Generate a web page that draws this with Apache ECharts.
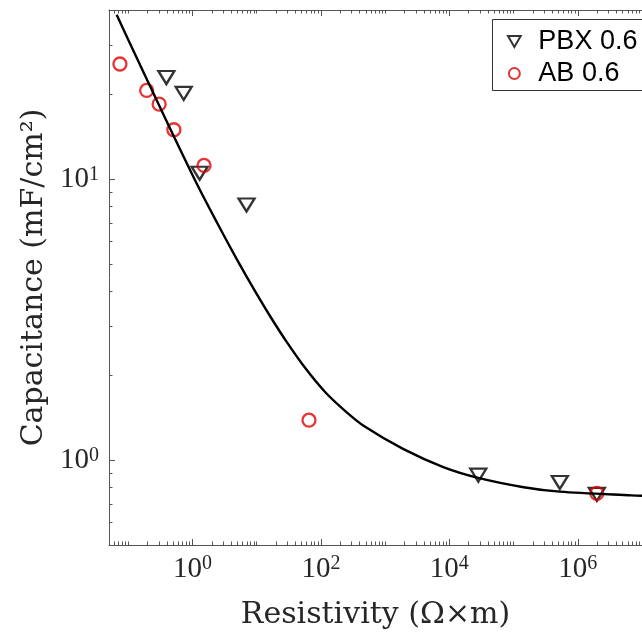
<!DOCTYPE html>
<html>
<head>
<meta charset="utf-8">
<script src="https://cdn.jsdelivr.net/npm/echarts@6/dist/echarts.min.js"></script>
<style>
html,body{margin:0;padding:0;background:#fff;}
#chart{width:642px;height:635px;}
</style>
</head>
<body>
<div id="chart"></div>
<script>
// ---- data ----
const pbxRes = [0.391, 0.728, 1.29, 6.93, 28200, 525000, 1980000];
const pbxCap = [23.0, 20.2, 10.5, 8.1, 0.886, 0.834, 0.757];
const abRes = [0.074, 0.193, 0.302, 0.512, 1.51, 65.1, 1980000];
const abCap = [25.7, 20.7, 18.5, 15.0, 11.2, 1.39, 0.763];
const fitRes = [0.0658, 0.1014, 0.3478, 1.192, 2.412, 4.877, 9.86, 16.72, 28.36, 57.33, 115.9, 234.5, 474.1, 1898, 8037, 28150, 143800, 525200, 6840000, 10000000];
const fitCap = [38.5, 31.07, 17.10, 9.54, 7.005, 5.201, 3.925, 3.216, 2.667, 2.125, 1.751, 1.504, 1.322, 1.099, 0.9467, 0.8665, 0.8027, 0.7739, 0.7506, 0.7488];
const seriesNames = ['PBX 0.6', 'AB 0.6'];
const xMajorTicks = [1, 100, 10000, 1000000];
const yMajorTicks = [1, 10];
const xRange = [0.05, 10000000];
const yRange = [0.5, 40];

function minorTicks(range, majors) {
  const out = [];
  const e0 = Math.floor(Math.log10(range[0]));
  const e1 = Math.ceil(Math.log10(range[1]));
  for (let e = e0; e <= e1; e++) {
    for (let k = 1; k <= 9; k++) {
      const v = parseFloat((k * Math.pow(10, e)).toPrecision(6));
      if (v >= range[0] && v <= range[1] && majors.indexOf(v) < 0) out.push(v);
    }
  }
  return out;
}
const xMinor = minorTicks(xRange, xMajorTicks);
const yMinor = minorTicks(yRange, yMajorTicks);

const axisColor = '#555';
const redColor = '#e00000';
const tickFont = 'Liberation Serif';
const titleFont = 'DejaVu Serif';
const richLabel = {
  b: {fontFamily: tickFont, fontSize: 29, color: '#262626', lineHeight: 30},
  s: {fontFamily: tickFont, fontSize: 20, color: '#262626', lineHeight: 20, verticalAlign: 'top'}
};
function powLabel(v) {
  const e = Math.round(Math.log10(v));
  return '{b|10}{s|' + e + '}';
}
function xAx(pos, ticks, len, withLine, withLabel) {
  const a = {
    type: 'log', logBase: 10, min: xRange[0], max: xRange[1], gridIndex: 0, position: pos,
    axisLine: {show: withLine, onZero: false, lineStyle: {color: axisColor, width: 1}},
    axisTick: {show: true, inside: true, length: len, customValues: ticks, lineStyle: {color: axisColor, width: 1}},
    axisLabel: withLabel ? {show: true, customValues: xMajorTicks, formatter: powLabel, margin: 9, rich: richLabel} : {show: false},
    splitLine: {show: false}, minorTick: {show: false}
  };
  if (withLabel) {
    a.name = 'Resistivity (Ω×m)';
    a.nameLocation = 'middle';
    a.nameGap = 55;
    a.nameTextStyle = {fontFamily: titleFont, fontSize: 30, color: '#262626'};
  }
  return a;
}
function yAx(pos, ticks, len, withLine, withLabel) {
  const a = {
    type: 'log', logBase: 10, min: yRange[0], max: yRange[1], gridIndex: 0, position: pos,
    axisLine: {show: withLine, onZero: false, lineStyle: {color: axisColor, width: 1}},
    axisTick: {show: true, inside: true, length: len, customValues: ticks, lineStyle: {color: axisColor, width: 1}},
    axisLabel: withLabel ? {show: true, customValues: yMajorTicks, formatter: powLabel, margin: 10, rich: richLabel} : {show: false},
    splitLine: {show: false}, minorTick: {show: false}
  };
  if (withLabel) {
    a.name = 'Capacitance (mF/cm²)';
    a.nameLocation = 'middle';
    a.nameGap = 60;
    a.nameTextStyle = {fontFamily: titleFont, fontSize: 30, color: '#262626'};
  }
  return a;
}

const triPath = 'path://M0,0 L20,0 L10,17.3 Z';

const chart = echarts.init(document.getElementById('chart'), null, {renderer: 'canvas'});
chart.setOption({
  animation: false,
  backgroundColor: '#fff',
  grid: {left: 109, top: 10, width: 544, height: 542, containLabel: false},
  graphic: [{
    type: 'rect', z: 3, silent: true,
    shape: {x: 492.5, y: 19.5, width: 200, height: 71},
    style: {fill: '#fff', stroke: '#333', lineWidth: 1}
  }],
  xAxis: [
    xAx('bottom', xMajorTicks, 6, true, true),
    xAx('bottom', xMinor, 3.5, false, false),
    xAx('top', xMajorTicks, 6, true, false),
    xAx('top', xMinor, 3.5, false, false)
  ],
  yAxis: [
    yAx('left', yMajorTicks, 6, true, true),
    yAx('left', yMinor, 3.5, false, false)
  ],
  legend: {
    data: [
      {name: seriesNames[0], icon: triPath, itemStyle: {color: 'rgba(0,0,0,0)', borderColor: '#000', borderWidth: 2}},
      {name: seriesNames[1], icon: 'circle', itemStyle: {color: 'rgba(0,0,0,0)', borderColor: redColor, borderWidth: 2}}
    ],
    orient: 'vertical', left: 501, top: 19, z: 5,
    padding: [9, 0, 5, 6], itemGap: 5, itemWidth: 28, itemHeight: 11,
    symbolKeepAspect: true,
    backgroundColor: 'transparent', borderWidth: 0,
    textStyle: {fontFamily: 'Liberation Sans', fontSize: 27, color: '#000', lineHeight: 26, padding: [0, 0, 0, 5]},
    selectedMode: false
  },
  series: [
    {
      name: 'fit', type: 'line', xAxisIndex: 0, yAxisIndex: 0, z: 4,
      data: fitRes.map((x, i) => [x, fitCap[i]]),
      smooth: 0.3, showSymbol: false, symbol: 'none',
      lineStyle: {color: '#000', width: 2.4}
    },
    {
      name: seriesNames[0], type: 'scatter', xAxisIndex: 0, yAxisIndex: 0, z: 2,
      data: pbxRes.map((x, i) => [x, pbxCap[i]]),
      symbol: 'triangle', symbolRotate: 180, symbolSize: [16, 13],
      itemStyle: {color: 'rgba(0,0,0,0)', borderColor: '#000', borderWidth: 2.3}
    },
    {
      name: seriesNames[1], type: 'scatter', xAxisIndex: 0, yAxisIndex: 0, z: 3,
      data: abRes.map((x, i) => [x, abCap[i]]),
      symbol: 'circle', symbolSize: 13,
      itemStyle: {color: 'rgba(0,0,0,0)', borderColor: redColor, borderWidth: 2.3}
    }
  ]
});
</script>
</body>
</html>
